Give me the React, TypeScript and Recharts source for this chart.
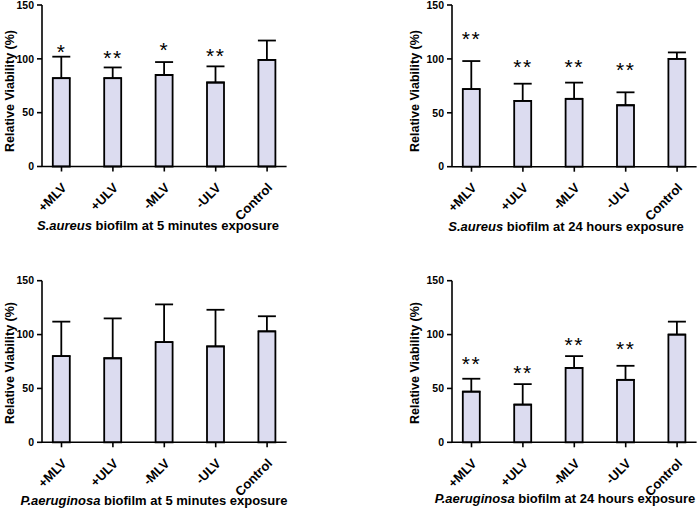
import React from "react";
import { ComposedChart, Bar, Line, XAxis, YAxis, ErrorBar, LabelList } from "recharts";

const categories = ["+MLV", "+ULV", "-MLV", "-ULV", "Control"];
const yTicks = [0, 50, 100, 150];

// S. aureus, 5 min
const sa5Mean = [82, 82, 85, 78, 99];
const sa5Err = [20, 10, 12, 15, 18];
const sa5Sig = ["*", "**", "*", "**", ""];
const sa5SigAt = [111, 105, 113, 107, null];

// S. aureus, 24 h
const sa24Mean = [72, 61, 63, 57, 100];
const sa24Err = [26, 16, 15, 12, 6];
const sa24Sig = ["**", "**", "**", "**", ""];
const sa24SigAt = [123, 97, 97, 94, null];

// P. aeruginosa, 5 min
const pa5Mean = [80, 78, 93, 89, 103];
const pa5Err = [32, 37, 35, 34, 14];
const pa5Sig = ["", "", "", "", ""];
const pa5SigAt = [null, null, null, null, null];

// P. aeruginosa, 24 h
const pa24Mean = [47, 35, 69, 58, 100];
const pa24Err = [12, 19, 11, 13, 12];
const pa24Sig = ["**", "**", "**", "**", ""];
const pa24SigAt = [77, 69, 95, 91, null];

const FONT = '"Liberation Sans", Arial, sans-serif';

function rows(mean: number[], err: number[], sig: string[], sigAt: (number | null)[]) {
  return categories.map((name, i) => ({
    name,
    mean: mean[i],
    errRange: [0, err[i]],
    sig: sig[i],
    sigAt: sigAt[i],
  }));
}

const AngledTick = (props: any) => {
  const { x, y, payload } = props;
  return (
    <g transform={`translate(${x + 6},${y + 15})`}>
      <text
        transform="rotate(-45)"
        textAnchor="end"
        fontSize={13}
        fontWeight="bold"
        fontFamily={FONT}
        fill="#000"
      >
        {payload.value}
      </text>
    </g>
  );
};

const Stars = (props: any) => {
  const { x, y, value } = props;
  if (!value || y == null || isNaN(y)) return null;
  return (
    <text
      x={x}
      y={y}
      dy={12}
      textAnchor="middle"
      fontSize={21}
      fontFamily={FONT}
      letterSpacing={1.5}
      fill="#000"
    >
      {value}
    </text>
  );
};

interface PanelProps {
  data: any[];
  left: number;
  top: number;
  width: number;
  height: number;
  margin: { top: number; right: number; bottom: number; left: number };
}

function Panel({ data, left, top, width, height, margin }: PanelProps) {
  return (
    <div style={{ position: "absolute", left, top }}>
      <ComposedChart width={width} height={height} data={data} margin={margin}>
        <XAxis
          dataKey="name"
          padding={{ left: -6.2, right: -6.2 }}
          tickSize={5}
          height={50}
          interval={0}
          stroke="#000"
          strokeWidth={1.6}
          tick={<AngledTick />}
        />
        <YAxis
          domain={[0, 150]}
          ticks={yTicks}
          width={42}
          tickSize={5}
          tickMargin={3}
          stroke="#000"
          strokeWidth={1.6}
          tick={{ fontSize: 10.5, fontWeight: "bold", fill: "#000", fontFamily: FONT }}
        />
        <Bar
          dataKey="mean"
          barSize={17}
          fill="#dcdcf0"
          stroke="#000"
          strokeWidth={1.8}
          isAnimationActive={false}
        >
          <ErrorBar dataKey="errRange" direction="y" width={9} stroke="#000" strokeWidth={1.8} />
        </Bar>
        <Line
          dataKey="sigAt"
          stroke="none"
          dot={false}
          activeDot={false}
          isAnimationActive={false}
        >
          <LabelList dataKey="sig" content={<Stars />} />
        </Line>
      </ComposedChart>
    </div>
  );
}

const labelStyle: React.CSSProperties = {
  position: "absolute",
  transform: "translate(-50%, -50%) rotate(-90deg)",
  whiteSpace: "nowrap",
  fontFamily: FONT,
  fontWeight: "bold",
  fontSize: 12.5,
  color: "#000",
};

const titleStyle: React.CSSProperties = {
  position: "absolute",
  transform: "translate(-50%, -50%)",
  whiteSpace: "nowrap",
  fontFamily: FONT,
  fontWeight: "bold",
  fontSize: 13,
  color: "#000",
};

function YLabel({ x, y }: { x: number; y: number }) {
  return <div style={{ ...labelStyle, left: x, top: y }}>Relative Viability (%)</div>;
}

function Title({ x, y, species, rest }: { x: number; y: number; species: string; rest: string }) {
  return (
    <div style={{ ...titleStyle, left: x, top: y }}>
      <i>{species}</i> {rest}
    </div>
  );
}

export default function App() {
  return (
    <div
      style={{
        position: "absolute",
        left: 0,
        top: 0,
        width: 699,
        height: 508,
        background: "#fff",
        overflow: "hidden",
      }}
    >
      <Panel
        data={rows(sa5Mean, sa5Err, sa5Sig, sa5SigAt)}
        left={0}
        top={0}
        width={345}
        height={250}
        margin={{ top: 5, right: 58.4, bottom: 33.5, left: 0 }}
      />
      <Panel
        data={rows(sa24Mean, sa24Err, sa24Sig, sa24SigAt)}
        left={350}
        top={0}
        width={349}
        height={250}
        margin={{ top: 5, right: 2.4, bottom: 33.3, left: 60 }}
      />
      <Panel
        data={rows(pa5Mean, pa5Err, pa5Sig, pa5SigAt)}
        left={0}
        top={260}
        width={345}
        height={248}
        margin={{ top: 20.7, right: 58.4, bottom: 15.7, left: 0 }}
      />
      <Panel
        data={rows(pa24Mean, pa24Err, pa24Sig, pa24SigAt)}
        left={350}
        top={260}
        width={349}
        height={248}
        margin={{ top: 20.7, right: 2.4, bottom: 15.7, left: 60 }}
      />
      <YLabel x={10} y={91} />
      <YLabel x={415} y={91} />
      <YLabel x={10} y={363} />
      <YLabel x={415} y={363} />
      <Title x={158} y={225} species="S.aureus" rest="biofilm at 5 minutes exposure" />
      <Title x={566} y={226} species="S.aureus" rest="biofilm at 24 hours exposure" />
      <Title x={154} y={500} species="P.aeruginosa" rest="biofilm at 5 minutes exposure" />
      <Title x={565} y={498} species="P.aeruginosa" rest="biofilm at 24 hours exposure" />
    </div>
  );
}
